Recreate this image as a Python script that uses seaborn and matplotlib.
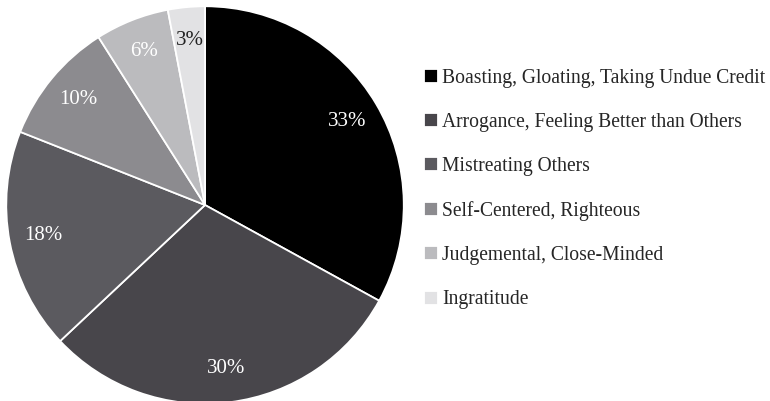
import matplotlib
matplotlib.use("Agg")
import matplotlib.pyplot as plt
import seaborn as sns

# data
categories = [
    "Boasting, Gloating, Taking Undue Credit",
    "Arrogance, Feeling Better than Others",
    "Mistreating Others",
    "Self-Centered, Righteous",
    "Judgemental, Close-Minded",
    "Ingratitude",
]
shares = [33, 30, 18, 10, 6, 3]
colors = ["#000000", "#48464b", "#5b5a5f", "#8c8b8f", "#bbbbbe", "#e2e2e4"]
label_colors = ["white", "white", "white", "white", "white", "#222222"]

sns.set_theme(style="white")
plt.rcParams['font.family'] = ['Liberation Serif', 'DejaVu Serif']

fig = plt.figure(figsize=(7.70, 4.01), dpi=100)
ax = fig.add_axes([0.0091 - 0.002, -0.005 - 0.004, 0.5143 + 0.004, 0.9875 + 0.008])

wedges, texts, autotexts = ax.pie(
    shares,
    colors=colors,
    startangle=90,
    counterclock=False,
    autopct=lambda p: f"{p:.0f}%",
    pctdistance=0.83,
    wedgeprops=dict(edgecolor="white", linewidth=1.3),
    textprops=dict(fontsize=15),
)
for t, c in zip(autotexts, label_colors):
    t.set_color(c)

ax.set_xlim(-1.004, 1.004)
ax.set_ylim(-1.004, 1.004)
ax.set_aspect("equal")
ax.axis("off")

fig.legend(
    wedges, categories,
    loc="upper left",
    bbox_to_anchor=(0.5375, 0.853),
    frameon=False,
    fontsize=14.1,
    handlelength=0.72,
    handleheight=0.72,
    handletextpad=0.22,
    labelspacing=1.285,
    borderpad=0,
)

fig.savefig("out.png", dpi=100, facecolor="white")
